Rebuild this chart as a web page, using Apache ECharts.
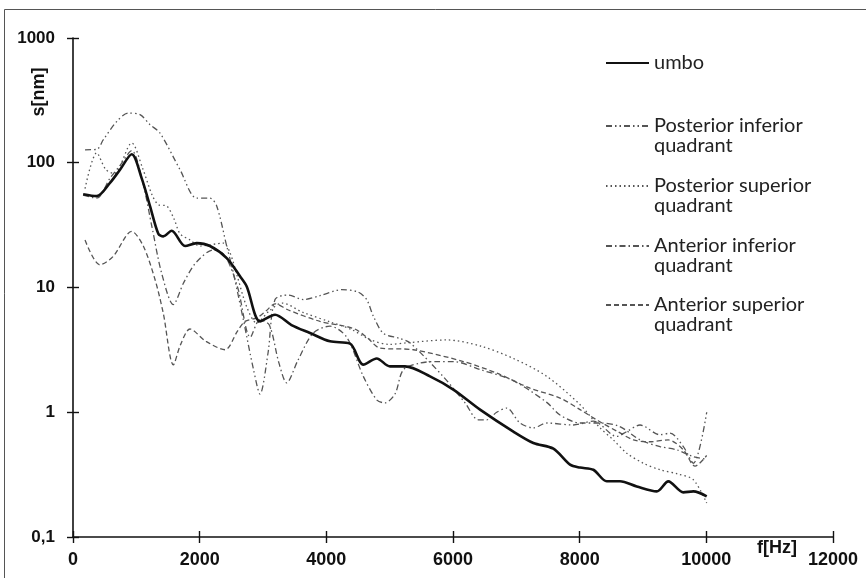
<!DOCTYPE html>
<html>
<head>
<meta charset="utf-8">
<script src="https://cdn.jsdelivr.net/npm/echarts@6/dist/echarts.min.js"></script>
<style>
  html, body { margin: 0; padding: 0; background: #fff; }
  #chart { width: 866px; height: 578px; }
</style>
</head>
<body>
<div id="chart"></div>
<script>
// [f in Hz, s in nm]
var umbo = [[160,56],[374,54],[584,69],[742,88],[927,117],[1085,75],[1216,45],[1347,27],[1426,25.7],[1558,28.5],[1769,21.5],[1953,22.7],[2163,21.5],[2427,17.2],[2637,12.3],[2743,10.2],[2953,5.35],[3190,6.05],[3450,5.0],[3742,4.32],[4058,3.7],[4374,3.55],[4584,2.41],[4795,2.7],[5005,2.33],[5242,2.33],[5637,1.94],[6005,1.52],[6427,1.05],[6953,0.70],[7269,0.567],[7585,0.51],[7848,0.38],[8006,0.36],[8216,0.346],[8427,0.28],[8637,0.28],[8901,0.254],[9217,0.232],[9400,0.279],[9637,0.228],[9795,0.232],[10006,0.212]];

var postInf = [[190,127],[374,128],[479,153],[690,214],[873,250],[1058,243],[1216,202],[1374,173],[1690,88],[1953,52],[2163,52],[2269,45],[2427,21.5],[2532,13.1],[2690,5.5],[2850,2.2],[2953,1.4],[3080,3.0],[3190,8.0],[3400,8.7],[3637,8.0],[3900,8.6],[4242,9.6],[4500,9.2],[4637,8.0],[4742,5.9],[4900,4.3],[5163,3.9],[5321,3.6],[5842,1.94],[6190,1.19],[6400,0.87],[6532,0.87],[6690,1.0],[6848,1.08],[7058,0.82],[7269,0.75],[7480,0.82],[7900,0.79],[8216,0.85],[8585,0.64],[8743,0.70],[8953,0.79],[9269,0.66],[9427,0.68],[9637,0.53],[9795,0.39],[10006,1.0]];

var postSup = [[190,62],[374,120],[520,88],[650,82],[927,144],[1100,90],[1250,55],[1350,46],[1479,45],[1600,35],[1690,27],[1850,24],[2005,21.5],[2374,22.7],[2479,19],[2600,12],[2743,7],[2900,5.2],[3100,6.5],[3300,7.5],[3637,6.3],[4058,5.3],[4400,4.6],[4700,3.8],[5000,3.5],[5269,3.6],[5900,3.8],[6427,3.4],[6953,2.7],[7480,1.94],[8006,1.15],[8321,0.75],[8532,0.6],[8743,0.47],[9006,0.39],[9269,0.346],[9550,0.32],[9795,0.288],[10006,0.187]];

var antInf = [[160,55],[374,52],[584,75],[742,95],[927,125],[1100,70],[1250,30],[1400,13],[1584,7.3],[1750,11],[1950,16],[2216,20],[2400,18],[2600,10],[2800,4],[2950,5.5],[3100,5],[3250,2.5],[3374,1.72],[3550,2.6],[3790,4.3],[4058,4.9],[4321,4.0],[4584,1.94],[4800,1.25],[4926,1.19],[5084,1.4],[5216,2.19],[5479,2.48],[5742,2.55],[6005,2.55],[6427,2.2],[6953,1.79],[7480,1.2],[7690,0.95],[8006,0.82],[8321,0.82],[8627,0.77],[8953,0.6],[9269,0.53],[9532,0.5],[9795,0.44],[10006,0.42]];

var antSup = [[190,24],[426,15.2],[632,17.7],[927,28.2],[1110,21.5],[1295,11.6],[1426,6.2],[1584,2.4],[1700,3.5],[1847,4.65],[2100,3.7],[2400,3.17],[2600,4.5],[2716,5.35],[2900,5.7],[3050,6.5],[3190,7.4],[3400,6.6],[3900,5.35],[4426,4.7],[4637,4.0],[4848,3.27],[5374,3.17],[6164,2.55],[6690,2.06],[7216,1.56],[7690,1.3],[8006,1.05],[8300,0.85],[8600,0.7],[8850,0.6],[9100,0.58],[9400,0.6],[9637,0.5],[9822,0.37],[10006,0.45]];

var names = ['umbo', 'Posterior inferior quadrant', 'Posterior superior quadrant',
  'Anterior inferior quadrant', 'Anterior superior quadrant'];

var chart = echarts.init(document.getElementById('chart'), null, {renderer: 'canvas'});

function grayLine(name, data, dash) {
  return {
    name: name,
    type: 'line',
    data: data,
    smooth: 0.3,
    symbol: 'none',
    showSymbol: false,
    lineStyle: { color: '#555', width: 1.3, type: dash },
    itemStyle: { color: '#555' },
    z: 2
  };
}

// the blank first line keeps the icon level with the first text line
function legendAt(name, top, twoLines) {
  return {
    data: [name],
    left: 600,
    top: top,
    orient: 'vertical',
    itemWidth: 43,
    itemHeight: 14,
    selectedMode: false,
    itemStyle: { opacity: 0 },
    formatter: function (n) {
      return twoLines ? '\n' + n.replace(' quadrant', '\nquadrant') : n;
    },
    textStyle: { fontFamily: 'Lato', fontSize: 20, color: '#222', lineHeight: 20 }
  };
}

var labelFont = { fontFamily: 'Liberation Sans', fontWeight: 'bold', color: '#111' };

var option = {
  animation: false,
  backgroundColor: '#fff',
  grid: { left: 73, right: 33, top: 38, bottom: 41, containLabel: false, outerBoundsMode: 'none' },
  legend: [
    legendAt(names[0], 48, false),
    legendAt(names[1], 91, true),
    legendAt(names[2], 151, true),
    legendAt(names[3], 211, true),
    legendAt(names[4], 270, true)
  ],
  xAxis: [{
    type: 'value', min: 0, max: 12000, interval: 2000,
    axisLine: { lineStyle: { color: '#111', width: 1.6 } },
    axisTick: { length: 6, lineStyle: { color: '#111', width: 1.4 } },
    axisLabel: Object.assign({
      fontSize: 18, margin: 14,
      formatter: function (v) { return String(v); }
    }, labelFont),
    splitLine: { show: false }
  }, {
    type: 'value', min: 0, max: 12000, interval: 2000, position: 'bottom',
    axisLine: { show: false },
    axisTick: { inside: true, length: 6, lineStyle: { color: '#111', width: 1.4 } },
    axisLabel: { show: false },
    splitLine: { show: false }
  }],
  yAxis: [{
    type: 'log', logBase: 10, min: 0.1, max: 1000,
    axisLine: { show: true, lineStyle: { color: '#111', width: 1.6 } },
    axisTick: { show: true, length: 6, lineStyle: { color: '#111', width: 1.4 } },
    axisLabel: Object.assign({
      fontSize: 17, margin: 18,
      formatter: function (v) { return v < 0.5 ? '0,1' : String(Math.round(v)); }
    }, labelFont),
    splitLine: { show: false }
  }, {
    type: 'log', logBase: 10, min: 0.1, max: 1000, position: 'left',
    axisLine: { show: false },
    axisTick: { show: true, inside: true, length: 6, lineStyle: { color: '#111', width: 1.4 } },
    axisLabel: { show: false },
    splitLine: { show: false }
  }],
  series: [
    {
      name: names[0], type: 'line', data: umbo, smooth: 0.3, symbol: 'none', showSymbol: false,
      lineStyle: { color: '#111', width: 2.6 }, itemStyle: { color: '#111' }, z: 5
    },
    grayLine(names[1], postInf, [6, 3, 1.5, 3, 1.5, 3]),
    grayLine(names[2], postSup, [1.5, 3]),
    grayLine(names[3], antInf, [6, 3, 1.5, 3]),
    grayLine(names[4], antSup, [5, 3])
  ],
  graphic: [
    {
      type: 'polyline', silent: true,
      shape: { points: [[4.5, 578], [4.5, 9.5], [866, 9.5]] },
      style: { stroke: '#555', lineWidth: 1, fill: null }
    },
    {
      type: 'text', x: 39.5, y: 92, rotation: Math.PI / 2,
      style: { text: 's[nm]', fontFamily: 'Liberation Sans', fontWeight: 'bold', fontSize: 18,
        fill: '#111', align: 'center', verticalAlign: 'middle' }
    },
    {
      type: 'text', x: 777, y: 548,
      style: { text: 'f[Hz]', fontFamily: 'Liberation Sans', fontWeight: 'bold', fontSize: 18,
        fill: '#111', align: 'center', verticalAlign: 'middle' }
    }
  ]
};

chart.setOption(option);
</script>
</body>
</html>
